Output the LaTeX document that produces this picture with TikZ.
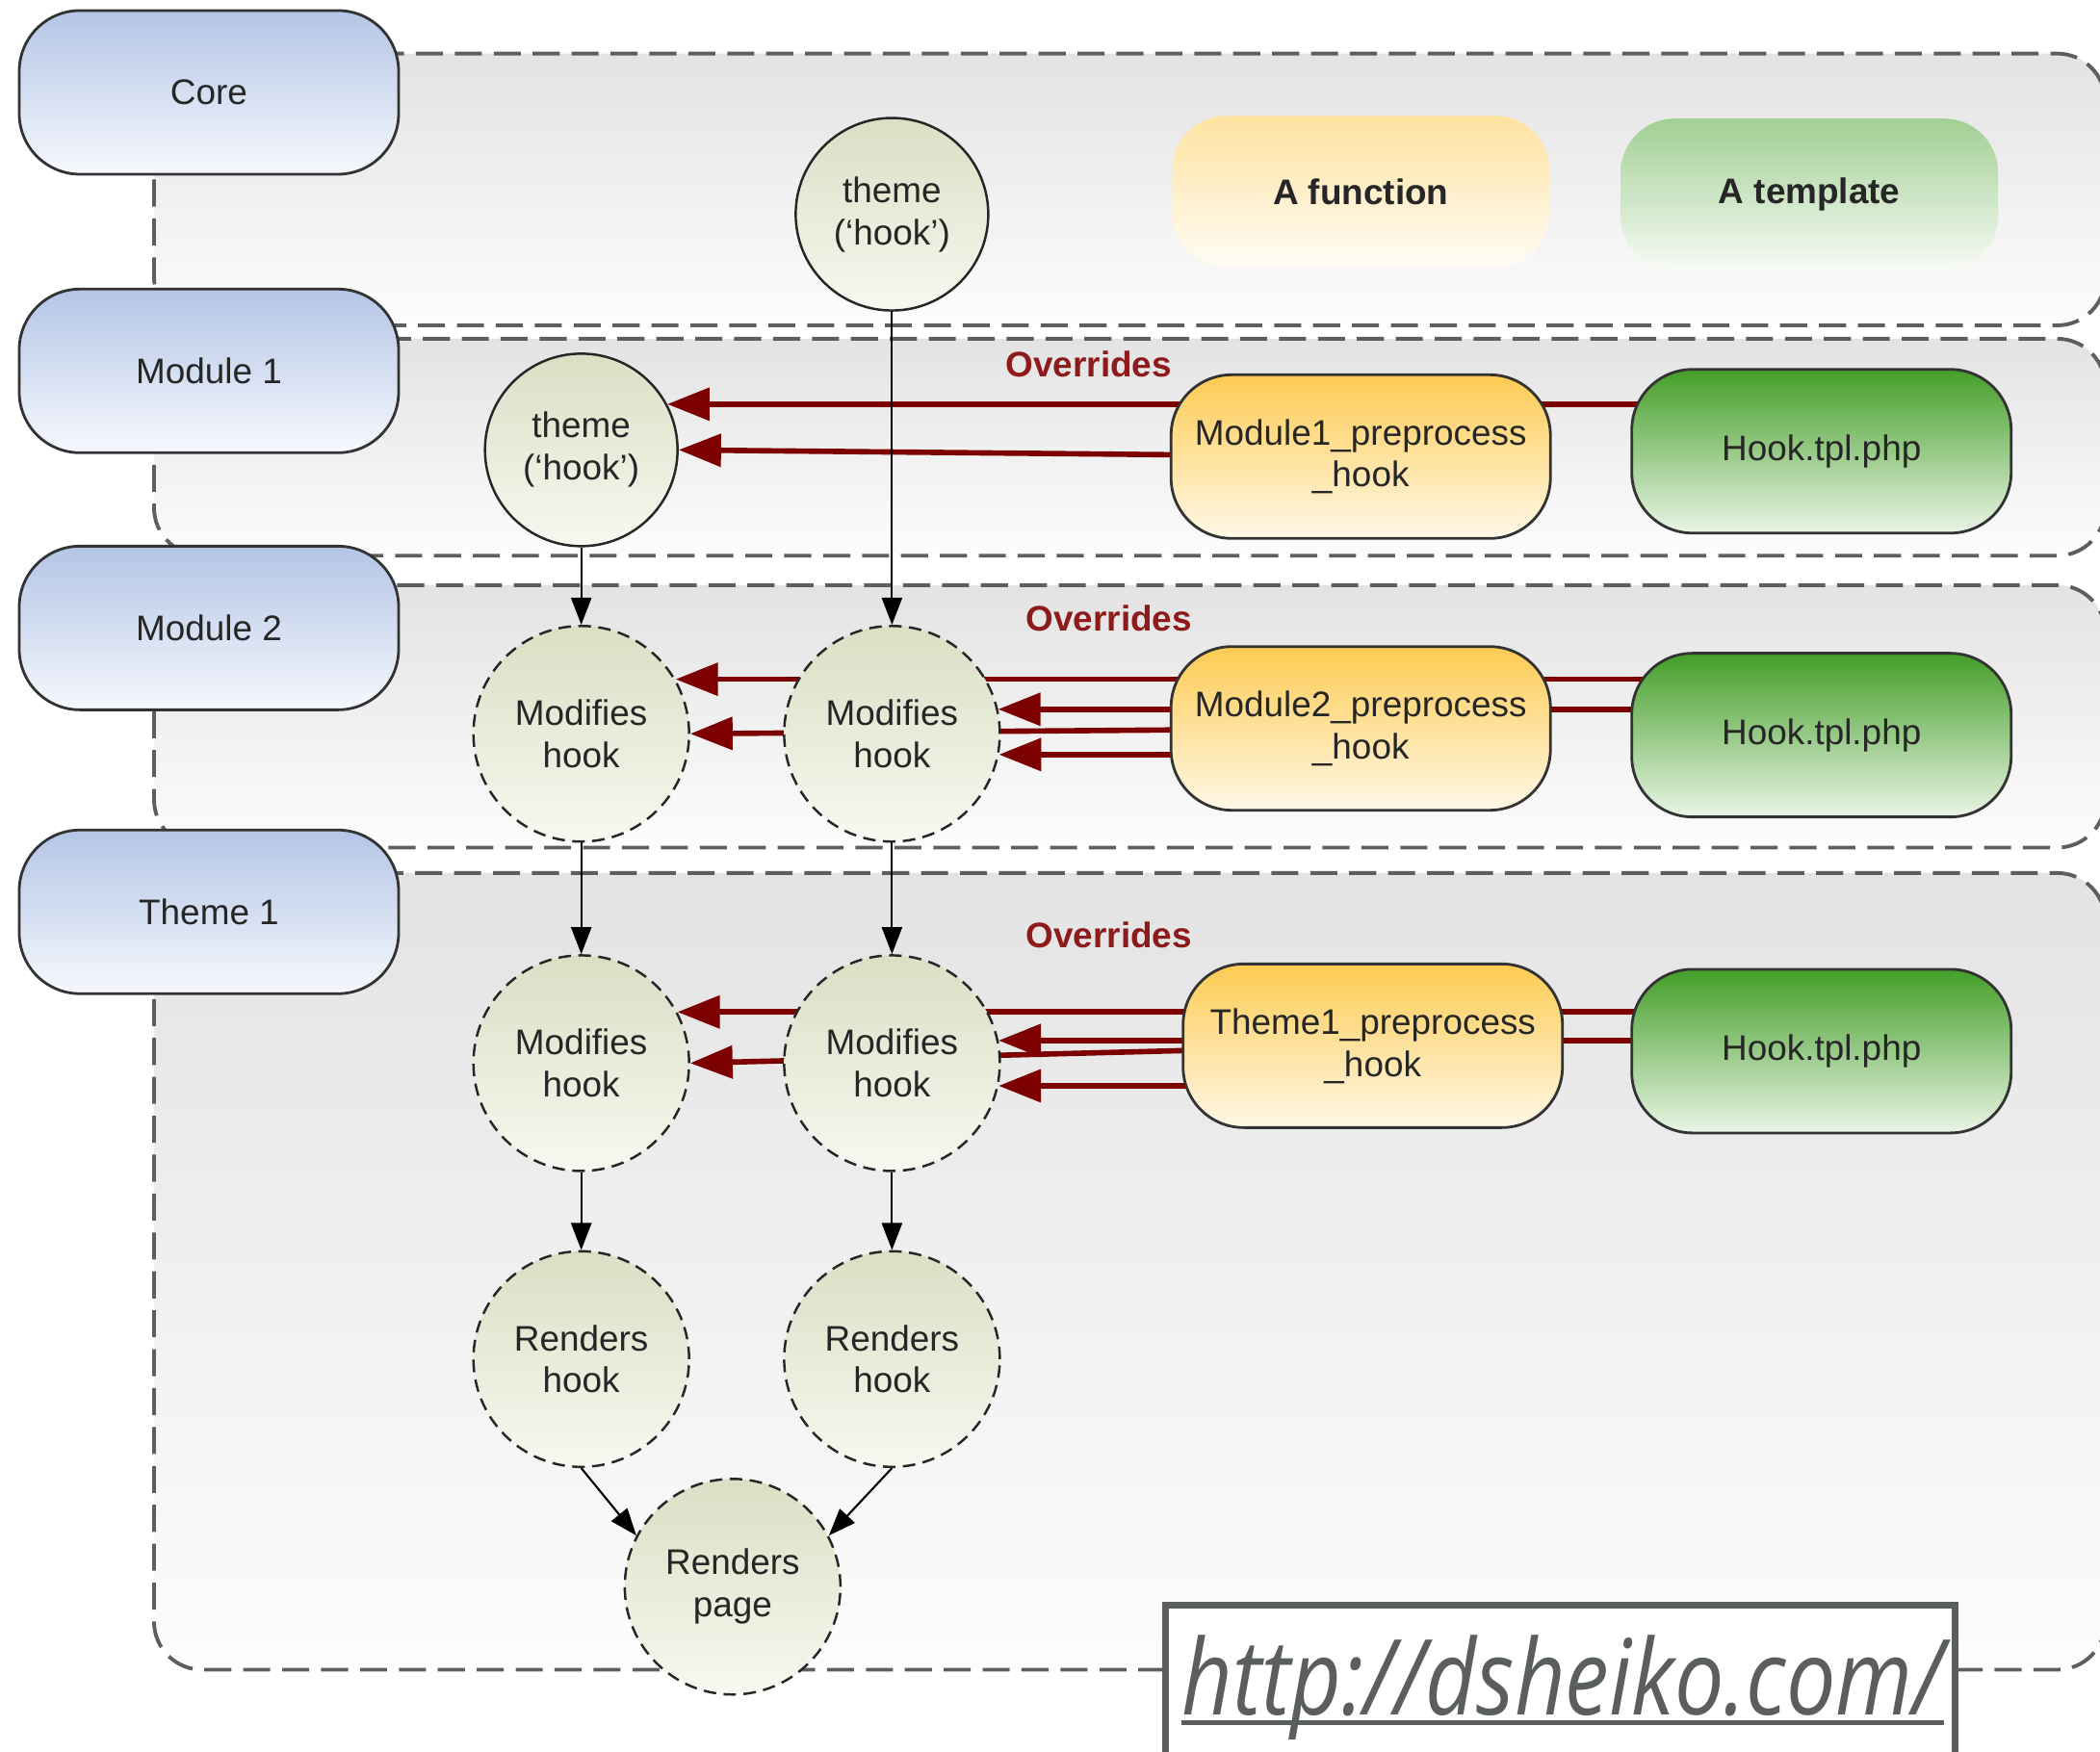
\documentclass[tikz,border=0pt]{standalone}
\usepackage{fontspec}
\setmainfont{Liberation Sans}
\newfontfamily\urlfont{Open Sans}[FakeStretch=0.84]
\usetikzlibrary{arrows.meta}

\definecolor{laneline}{HTML}{5E5E5E}
\definecolor{roletop}{HTML}{B3C5E6}
\definecolor{rolebot}{HTML}{F6F8FD}
\definecolor{hooktop}{HTML}{DADFC4}
\definecolor{hookbot}{HTML}{F7F8F0}
\definecolor{fntop}{HTML}{FDCB52}
\definecolor{fnbot}{HTML}{FFF8E8}
\definecolor{tpltop}{HTML}{449E28}
\definecolor{tplbot}{HTML}{EAF5E6}
\definecolor{ovr}{HTML}{7D0000}
\definecolor{ovrtext}{HTML}{8E1B1B}
\definecolor{urlgray}{HTML}{5A5E5C}

\pgfdeclarelayer{lanes}
\pgfdeclarelayer{links}
\pgfsetlayers{lanes,links,main}

\tikzset{
  lane/.style={draw=laneline, line width=1.1pt, dash pattern=on 8pt off 3.5pt,
    rounded corners=5mm, top color=black!11, bottom color=black!1},
  role/.style={draw=black!80, line width=0.8pt, rounded corners=6.3mm,
    minimum width=39.4mm, minimum height=17mm, top color=roletop, bottom color=rolebot},
  legend/.style={rounded corners=5.6mm, minimum width=39.2mm, minimum height=15.7mm,
    font=\fontsize{10.5}{12.5}\selectfont\bfseries},
  func/.style={role, top color=fntop, bottom color=fnbot, align=center},
  tpl/.style={role, top color=tpltop, bottom color=tplbot},
  hook/.style={circle, draw=black!85, line width=0.7pt, minimum size=20mm, inner sep=1pt,
    top color=hooktop, bottom color=hookbot, align=center},
  dhook/.style={hook, minimum size=22.4mm, dash pattern=on 3.7pt off 2.2pt},
  override/.style={draw=ovr, line width=1.6pt, -{Triangle[length=12.5pt,width=9.5pt]}},
  flow/.style={draw=black, line width=0.6pt, -{Triangle[length=8pt,width=6pt]}},
  ovrlabel/.style={text=ovrtext, font=\fontsize{10.5}{12.5}\selectfont\bfseries}
}

\begin{document}
\begin{tikzpicture}[x=0.1391mm, y=-0.1391mm, font=\fontsize{10.5}{12.5}\selectfont,
  text=black!85] % hook override chain
\useasboundingbox (0,0) rectangle (1568,1308);

\begin{pgfonlayer}{lanes}
\path[lane] (115,40) rectangle (1572,243);
\path[lane] (115,253) rectangle (1572,415);
\path[lane] (115,437) rectangle (1572,633);
\path[lane] (115,652) rectangle (1572,1247);
\end{pgfonlayer}

\node[role] (core) at (156,69) {Core};
\node[role] (modone) at (156,277) {Module 1};
\node[role] (modtwo) at (156,469) {Module 2};
\node[role] (themeone) at (156,681) {Theme 1};

\node[legend, top color=fntop!55, bottom color=fnbot!40] (legfn) at (1016,143) {A function};
\node[legend, top color=tpltop!50, bottom color=tplbot!40] (legtpl) at (1351,145) {A template};

\node[hook] (hookcore) at (666,160) {theme\\(‘hook’)};
\node[hook] (hookmod) at (434,336) {theme\\(‘hook’)};
\node[dhook] (modtwoL) at (434,548) {Modifies\\hook};
\node[dhook] (modtwoR) at (666,548) {Modifies\\hook};
\node[dhook] (thmL) at (434,794) {Modifies\\hook};
\node[dhook] (thmR) at (666,794) {Modifies\\hook};
\node[dhook] (rendL) at (434,1015) {Renders\\hook};
\node[dhook] (rendR) at (666,1015) {Renders\\hook};
\node[dhook] (page) at (547,1185) {Renders\\page};

\node[func] (fnone) at (1016,341) {Module1\_preprocess\\\_hook};
\node[func] (fntwo) at (1016,544) {Module2\_preprocess\\\_hook};
\node[func] (fnthree) at (1025,781) {Theme1\_preprocess\\\_hook};
\node[tpl] (tplone) at (1360,337) {Hook.tpl.php};
\node[tpl] (tpltwo) at (1360,549) {Hook.tpl.php};
\node[tpl] (tplthree) at (1360,785) {Hook.tpl.php};

\node[ovrlabel] (ovrone) at (813,272) {Overrides};
\node[ovrlabel] (ovrtwo) at (828,462) {Overrides};
\node[ovrlabel] (ovrthree) at (828,698) {Overrides};

\begin{pgfonlayer}{links}
\draw[override] (tplone.center |- hookmod.28) -- (hookmod.28);
\draw[override] (fnone.center) -- (hookmod.east);
\draw[override] (tpltwo.center |- modtwoL.30) -- (modtwoL.30);
\draw[override] (tpltwo.center |- modtwoR.13) -- (modtwoR.13);
\draw[override] (fntwo.center) -- (modtwoL.east);
\draw[override] (fntwo.center |- modtwoR.-11) -- (modtwoR.-11);
\draw[override] (tplthree.center |- thmL.28) -- (thmL.28);
\draw[override] (tplthree.center |- thmR.12) -- (thmR.12);
\draw[override] (fnthree.center) -- (thmL.east);
\draw[override] (fnthree.center |- thmR.-12) -- (thmR.-12);

\draw[flow] (hookcore) -- (modtwoR);
\draw[flow] (hookmod) -- (modtwoL);
\draw[flow] (modtwoL) -- (thmL);
\draw[flow] (modtwoR) -- (thmR);
\draw[flow] (thmL) -- (rendL);
\draw[flow] (thmR) -- (rendR);
\draw[flow] (rendL.south) -- (page.152);
\draw[flow] (rendR.south) -- (page.28);
\end{pgfonlayer}

\path[draw=urlgray, line width=2pt, fill=white] (870,1199) rectangle (1460,1340);
\node[anchor=base west, inner sep=0pt, text=urlgray,
  font=\urlfont\itshape\fontsize{31}{36}\selectfont] (url) at (882,1281) {http://dsheiko.com/};
\draw[urlgray, line width=1.4pt] ([yshift=-2.2pt]url.base west) -- ([yshift=-2.2pt]url.base east);
\end{tikzpicture}
\end{document}
